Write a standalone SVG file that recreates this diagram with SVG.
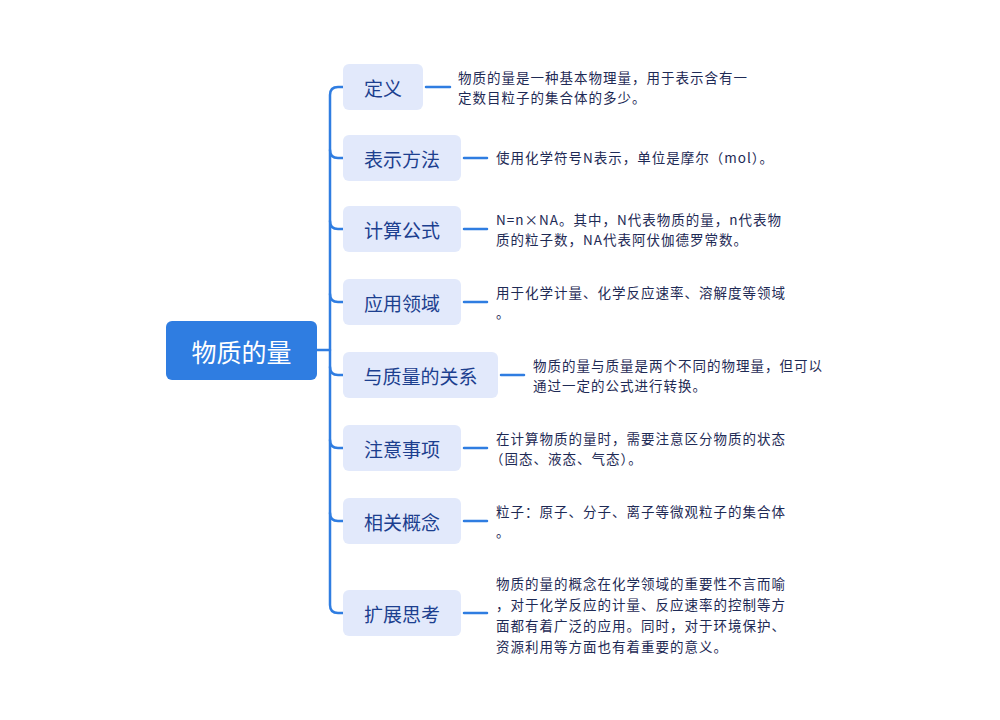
<svg xmlns="http://www.w3.org/2000/svg" width="1000" height="720" viewBox="0 0 1000 720">
<style>
.c{fill:none;stroke:#2f7de1;stroke-width:2.5;stroke-linecap:round}
.b{fill:#e2e9fb}
.bt{font-family:"Noto Sans CJK SC",sans-serif;font-size:19px;fill:#1c3f8f;text-anchor:middle;dominant-baseline:central}
.t{font-family:"Noto Sans CJK SC",sans-serif;font-size:13.5px;letter-spacing:1px;fill:#1e2a55}
</style>
<rect width="1000" height="720" fill="#fff"/>
<g id="connectors">
<path class="c" d="M317 350H330"/>
<path class="c" d="M343 87H338Q330 87 330 95V605Q330 613 338 613H343"/>
<path class="c" d="M330 150Q330 158 338 158H343M330 221Q330 229 338 229H343M330 294Q330 302 338 302H343M330 367Q330 375 338 375H343M330 440Q330 448 338 448H343M330 513Q330 521 338 521H343"/>
<path class="c" d="M426 87H450M464 158H487M464 229H487M464 302H487M501 375H524M464 448H487M464 521H487M464 613H487"/>
</g>
<g id="root"><rect x="166" y="321" width="151" height="59" rx="6" fill="#2f7de1"/><text x="241.5" y="350.5" class="bt" style="fill:#fff;font-size:25px">物质的量</text></g>
<g id="n1"><rect class="b" x="343" y="64" width="80" height="46" rx="6"/><text class="bt" x="383" y="87">定义</text>
<text class="t" x="458" y="83">物质的量是一种基本物理量，用于表示含有一</text><text class="t" x="458" y="103">定数目粒子的集合体的多少。</text></g>
<g id="n2"><rect class="b" x="343" y="135" width="118" height="46" rx="6"/><text class="bt" x="402" y="158">表示方法</text>
<text class="t" x="496" y="163">使用化学符号N表示，单位是摩尔（mol）。</text></g>
<g id="n3"><rect class="b" x="343" y="206" width="118" height="46" rx="6"/><text class="bt" x="402" y="229">计算公式</text>
<text class="t" x="496" y="225">N=n×NA。其中，N代表物质的量，n代表物</text><text class="t" x="496" y="245">质的粒子数，NA代表阿伏伽德罗常数。</text></g>
<g id="n4"><rect class="b" x="343" y="279" width="118" height="46" rx="6"/><text class="bt" x="402" y="302">应用领域</text>
<text class="t" x="496" y="298">用于化学计量、化学反应速率、溶解度等领域</text><text class="t" x="496" y="318">。</text></g>
<g id="n5"><rect class="b" x="343" y="352" width="155" height="46" rx="6"/><text class="bt" x="420.5" y="375">与质量的关系</text>
<text class="t" x="533" y="371">物质的量与质量是两个不同的物理量，但可以</text><text class="t" x="533" y="391">通过一定的公式进行转换。</text></g>
<g id="n6"><rect class="b" x="343" y="425" width="118" height="46" rx="6"/><text class="bt" x="402" y="448">注意事项</text>
<text class="t" x="496" y="444">在计算物质的量时，需要注意区分物质的状态</text><text class="t" x="490" y="464">（固态、液态、气态）。</text></g>
<g id="n7"><rect class="b" x="343" y="498" width="118" height="46" rx="6"/><text class="bt" x="402" y="521">相关概念</text>
<text class="t" x="496" y="517">粒子：原子、分子、离子等微观粒子的集合体</text><text class="t" x="496" y="537">。</text></g>
<g id="n8"><rect class="b" x="343" y="590" width="118" height="46" rx="6"/><text class="bt" x="402" y="613">扩展思考</text>
<text class="t" x="496" y="589">物质的量的概念在化学领域的重要性不言而喻</text><text class="t" x="496" y="610">，对于化学反应的计量、反应速率的控制等方</text><text class="t" x="496" y="631">面都有着广泛的应用。同时，对于环境保护、</text><text class="t" x="496" y="652">资源利用等方面也有着重要的意义。</text></g>
</svg>
